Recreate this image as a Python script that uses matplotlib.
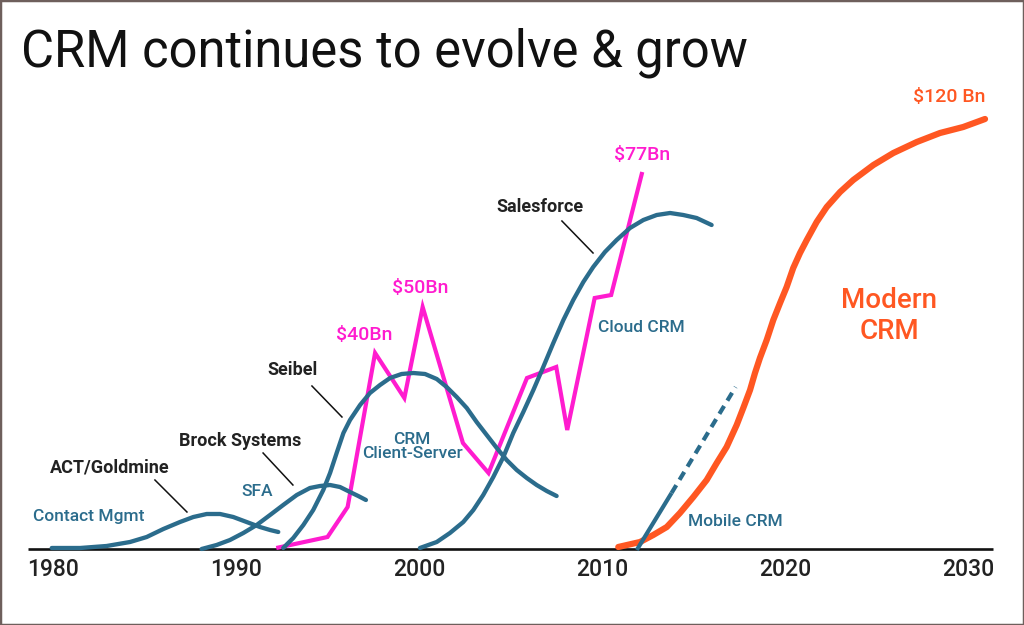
import matplotlib
matplotlib.use("Agg")
import matplotlib.pyplot as plt
from matplotlib.patches import Rectangle

plt.rcParams['font.family'] = ['Roboto', 'DejaVu Sans']

# =====================
# DATA (year, relative market size)
# =====================
YEARS = [1980, 1990, 2000, 2010, 2020, 2030]

contact_x = [1979.93, 1981.48, 1982.93, 1984.21, 1985.12, 1986.03, 1986.94, 1987.67, 1988.40,
             1989.13, 1989.85, 1990.58, 1991.31, 1991.86, 1992.31]
contact_y = [1, 1, 3, 7, 12, 20, 27, 32, 35, 35, 32, 27, 22, 19, 17]

sfa_x = [1988.12, 1988.94, 1989.67, 1990.40, 1991.13, 1991.86, 1992.58, 1993.32, 1994.04,
         1994.59, 1995.14, 1995.68, 1996.23, 1996.68, 1997.10]
sfa_y = [0, 4, 9, 16, 24, 34, 44, 54, 61, 63, 64, 62, 57, 53, 49]

cs_x = [1992.58, 1993.13, 1993.68, 1994.22, 1994.77, 1995.14, 1995.50, 1995.87, 1996.23,
        1996.78, 1997.32, 1997.87, 1998.42, 1999.05, 1999.69, 2000.33, 2000.97, 2001.51,
        2002.06, 2002.61, 2003.15, 2003.70, 2004.25, 2004.79, 2005.34, 2005.89, 2006.43,
        2006.98, 2007.52]
cs_y = [1, 11, 24, 39, 59, 76, 96, 116, 129, 144, 156, 164, 171, 175, 176, 175, 170, 162,
        152, 141, 127, 114, 101, 89, 79, 71, 64, 58, 53]

cloud_x = [2000.05, 2000.97, 2001.69, 2002.42, 2002.97, 2003.51, 2004.06, 2004.61, 2005.15,
           2005.70, 2006.25, 2006.79, 2007.34, 2007.89, 2008.43, 2008.98, 2009.52, 2010.16,
           2010.80, 2011.53, 2012.26, 2012.99, 2013.72, 2014.44, 2015.17, 2015.99]
cloud_y = [1, 7, 16, 27, 39, 54, 72, 92, 116, 137, 159, 182, 206, 229, 249, 267, 282, 297,
           309, 321, 329, 334, 336, 334, 331, 324]

market_x = [1992.2, 1995.0, 1996.1, 1997.6, 1999.2, 2000.2, 2002.4, 2003.8, 2005.9, 2007.5,
            2008.1, 2009.6, 2010.5, 2012.2]
market_y = [1, 12, 42, 196, 151, 242, 106, 76, 171, 182, 119, 251, 254, 377]

modern_x = [2010.89, 2012.08, 2012.80, 2013.54, 2014.26, 2014.99, 2015.72, 2016.27, 2016.81,
            2017.36, 2017.72, 2018.09, 2018.36, 2018.63, 2019.00, 2019.36, 2019.73, 2020.09,
            2020.45, 2020.82, 2021.19, 2021.73, 2022.28, 2023.01, 2023.73, 2024.83, 2025.92,
            2027.20, 2028.47, 2029.74, 2030.93]
modern_y = [2, 7, 14, 22, 36, 52, 69, 86, 102, 124, 141, 159, 176, 191, 209, 229, 246, 262,
            281, 296, 309, 327, 342, 357, 369, 384, 396, 407, 416, 422, 430]

mobile_x = [2011.9, 2013.8, 2017.3]
mobile_y = [-1, 56, 162]

# =====================
# STYLE
# =====================
BLUE = '#2b6c8c'
PINK = '#ff1ccf'
ORANGE = '#ff5722'
DARK = '#222222'
PX_PER_YEAR = 18.3

fig = plt.figure(figsize=(10.24, 6.25), dpi=100)
ax = fig.add_axes([0, 0, 1, 1])
ax.set_xlim(1980 - 53 / PX_PER_YEAR, 1980 + 971 / PX_PER_YEAR)
ax.set_ylim(-76, 549)
ax.axis('off')

# baseline + year labels
ax.plot([1978.63, 2031.37], [0, 0], color='#111111', lw=1.9, solid_capstyle='butt', zorder=1)
for yr in YEARS:
    ax.text(yr, -20, str(yr), ha='center', va='center', fontsize=16.5,
            color=DARK, fontweight='medium')

# curves
curve_kw = dict(color=BLUE, lw=3.1, solid_capstyle='round', solid_joinstyle='round', zorder=3)
ax.plot(contact_x, contact_y, **curve_kw)
ax.plot(sfa_x, sfa_y, **curve_kw)
ax.plot(cs_x, cs_y, **curve_kw)
ax.plot(cloud_x, cloud_y, **curve_kw)
ax.plot(market_x, market_y, color=PINK, lw=3, solid_joinstyle='miter',
        solid_capstyle='butt', zorder=2)
ax.plot(modern_x, modern_y, color=ORANGE, lw=4.5, solid_capstyle='round',
        solid_joinstyle='round', zorder=2)
ax.plot(mobile_x[:2], mobile_y[:2], color=BLUE, lw=3, solid_capstyle='butt', zorder=3)
ax.plot(mobile_x[1:], mobile_y[1:], color=BLUE, lw=3, dashes=(2.2, 1.5),
        dash_capstyle='butt', zorder=3)

# leader lines + bold labels
leaders = [((1985.57, 69), (1987.32, 37)),
           ((1991.48, 96), (1993.11, 64)),
           ((1994.15, 163), (1995.79, 132)),
           ((2007.81, 328), (2009.51, 296))]
for (x0, y0), (x1, y1) in leaders:
    ax.plot([x0, x1], [y0, y1], color='#111111', lw=1.1, zorder=2)

bold_kw = dict(ha='center', va='center', fontsize=13, fontweight='bold', color=DARK)
ax.text(1983.11, 82, 'ACT/Goldmine', **bold_kw)
ax.text(1990.22, 108, 'Brock Systems', **bold_kw)
ax.text(1993.11, 179, 'Seibel', **bold_kw)
ax.text(2006.61, 342, 'Salesforce', **bold_kw)

blue_kw = dict(ha='center', va='center', fontsize=12.5, color=BLUE, fontweight='medium')
ax.text(1981.97, 32, 'Contact Mgmt', **blue_kw)
ax.text(1991.15, 57, 'SFA', **blue_kw)
ax.text(1999.62, 102.5, 'CRM\nClient-Server', linespacing=1.0, **blue_kw)
ax.text(2012.13, 221, 'Cloud CRM', **blue_kw)
ax.text(2017.27, 27, 'Mobile CRM', **blue_kw)

pink_kw = dict(ha='center', va='center', fontsize=14, color=PINK, fontweight='medium')
ax.text(1996.99, 214, '$40Bn', **pink_kw)
ax.text(2000.05, 261, '$50Bn', **pink_kw)
ax.text(2012.19, 394, '$77Bn', **pink_kw)

ax.text(2028.96, 452, '$120 Bn', ha='center', va='center', fontsize=14,
        color=ORANGE, fontweight='medium')
ax.text(2025.68, 233, 'Modern\nCRM', ha='center', va='center', fontsize=20,
        color=ORANGE, fontweight='medium', linespacing=1.15)

# title
fig.text(21 / 1024, 1 - 53 / 625, 'CRM continues to evolve & grow', ha='left',
         va='center', fontsize=36.5, color='#111111')

# frame
fig.patches.append(Rectangle((0, 0), 1, 1, transform=fig.transFigure, fill=False,
                             edgecolor='#6e5f5c', lw=2.5))

fig.savefig('out.png', dpi=100, facecolor='white')
